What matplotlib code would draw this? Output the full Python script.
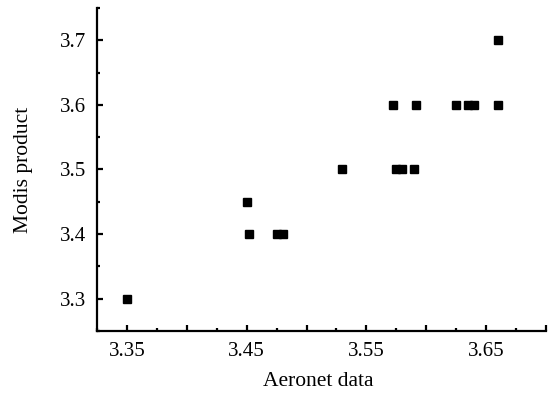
import matplotlib
matplotlib.use("Agg")
import matplotlib.pyplot as plt
from matplotlib.ticker import MultipleLocator, FixedLocator

plt.rcParams['font.family'] = ['Liberation Serif', 'DejaVu Serif']

aeronet = [3.35, 3.45, 3.452, 3.475, 3.480, 3.530, 3.5746, 3.580, 3.5894,
           3.572, 3.5914, 3.625, 3.635, 3.640, 3.660, 3.660]
modis = [3.3, 3.45, 3.4, 3.4, 3.4, 3.5, 3.5, 3.5, 3.5,
         3.6, 3.6, 3.6, 3.6, 3.6, 3.6, 3.7]
xtick_labels = [3.35, 3.45, 3.55, 3.65]
ytick_labels = [3.3, 3.4, 3.5, 3.6, 3.7]

fig = plt.figure(figsize=(5.56, 3.95), dpi=100)
ax = fig.add_axes([0.1745, 0.162, 0.8075, 0.818])
ax.plot(aeronet, modis, 's', color='black', markersize=6, linestyle='none')

ax.set_xlim(3.325, 3.70)
ax.set_ylim(3.25, 3.75)
ax.xaxis.set_major_locator(MultipleLocator(0.05))
ax.xaxis.set_minor_locator(MultipleLocator(0.025))
ax.xaxis.set_major_formatter(plt.FuncFormatter(
    lambda v, p: f"{v:.2f}" if any(abs(v - t) < 1e-6 for t in xtick_labels) else ""))
ax.yaxis.set_major_locator(FixedLocator(ytick_labels))
ax.yaxis.set_minor_locator(MultipleLocator(0.05))
ax.yaxis.set_major_formatter(plt.FuncFormatter(lambda v, p: f"{v:.1f}"))

for s in ['top', 'right']:
    ax.spines[s].set_visible(False)
for s in ['left', 'bottom']:
    ax.spines[s].set_linewidth(1.6)

ax.tick_params(which='major', direction='in', length=4, width=1.6, labelsize=15, pad=8)
ax.tick_params(which='minor', direction='in', length=2.5, width=1.6)
ax.set_xlabel('Aeronet data', fontsize=15.5)
ax.set_ylabel('Modis product', fontsize=15.5)
ax.xaxis.set_label_coords(0.492, -0.128)
ax.yaxis.set_label_coords(-0.142, 0.5)

fig.savefig('out.png', dpi=100)
